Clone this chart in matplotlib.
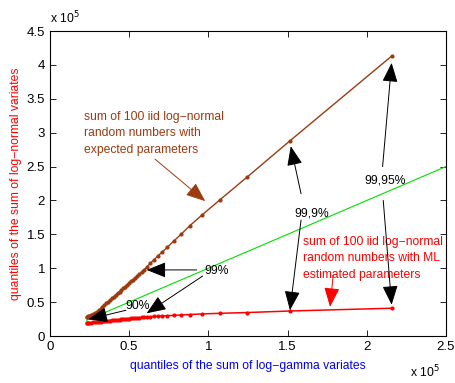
import matplotlib
matplotlib.use("Agg")
import matplotlib.pyplot as plt

plt.rcParams['font.family'] = ['Liberation Sans', 'DejaVu Sans']

# quantiles of the sum of log-gamma variates (x 1e5)
q_loggamma = [0.232, 0.235, 0.240, 0.247, 0.259, 0.271, 0.283, 0.295, 0.307, 0.319,
              0.331, 0.343, 0.355, 0.367, 0.379, 0.391, 0.403, 0.415, 0.427, 0.439,
              0.451, 0.463, 0.475, 0.487, 0.499, 0.511, 0.523, 0.536, 0.549, 0.563,
              0.578, 0.594, 0.612, 0.632, 0.655, 0.680, 0.709, 0.741, 0.781, 0.827,
              0.884, 0.962, 1.073, 1.242, 1.515, 2.159]
# log-normal with expected parameters (x 1e5)
q_ln_expected = [0.285, 0.287, 0.290, 0.295, 0.305, 0.320, 0.340, 0.360, 0.380, 0.405,
                 0.430, 0.455, 0.480, 0.505, 0.530, 0.555, 0.580, 0.605, 0.630, 0.655,
                 0.680, 0.705, 0.730, 0.755, 0.780, 0.805, 0.830, 0.855, 0.880, 0.910,
                 0.945, 0.980, 1.020, 1.070, 1.120, 1.180, 1.240, 1.310, 1.400, 1.500,
                 1.630, 1.790, 2.010, 2.340, 2.880, 4.134]
# log-normal with ML estimated parameters (x 1e5)
q_ln_ml = [0.185, 0.187, 0.190, 0.193, 0.197, 0.200, 0.204, 0.207, 0.210, 0.213,
           0.216, 0.219, 0.222, 0.225, 0.228, 0.231, 0.234, 0.237, 0.240, 0.243,
           0.246, 0.249, 0.252, 0.255, 0.258, 0.261, 0.263, 0.266, 0.268, 0.271,
           0.274, 0.277, 0.280, 0.284, 0.288, 0.292, 0.296, 0.300, 0.305, 0.310,
           0.317, 0.326, 0.335, 0.346, 0.369, 0.410]
diag = [0.232, 2.5]

brown = '#9c3a10'
fs = 8.7

fig = plt.figure(figsize=(4.56, 3.83), dpi=100)
ax = fig.add_axes([0.1096, 0.1227, 0.8684, 0.7963])

ax.plot(diag, diag, color='#00e000', lw=0.8)
ax.plot(q_loggamma, q_ln_expected, color=brown, lw=1.0, marker='o', ms=3.0, mew=0)
ax.plot(q_loggamma, q_ln_ml, color='red', lw=1.1, marker='o', ms=3.0, mew=0)

ax.set_xlim(0, 2.5)
ax.set_ylim(0, 4.5)
ax.set_xticks([0, 0.5, 1, 1.5, 2, 2.5])
ax.set_xticklabels(['0', '0.5', '1', '1.5', '2', '2.5'])
ax.set_yticks([0, 0.5, 1, 1.5, 2, 2.5, 3, 3.5, 4, 4.5])
ax.set_yticklabels(['0', '0.5', '1', '1.5', '2', '2.5', '3', '3.5', '4', '4.5'])
ax.tick_params(direction='in', top=True, right=True, labelsize=9.5, length=4, width=0.6)
for s in ax.spines.values():
    s.set_linewidth(0.8)

ax.set_xlabel('quantiles of the sum of log\u2212gamma variates', color='blue', fontsize=fs, labelpad=5)
ax.set_ylabel('quantiles of the sum of log\u2212normal variates', color='red', fontsize=fs, labelpad=3)

fig.text(0.11, 0.952, 'x 10$^5$', fontsize=fs, ha='left', va='center')
fig.text(0.965, 0.03, 'x 10$^5$', fontsize=fs, ha='right', va='center')

arr = dict(arrowstyle='-|>,head_length=0.8,head_width=0.32', color='black', lw=0.7,
           shrinkA=0, shrinkB=0, mutation_scale=15)

ax.text(0.215, 3.32, 'sum of 100 iid log\u2212normal\nrandom numbers with\nexpected parameters',
        color=brown, fontsize=fs, va='top', ha='left', linespacing=1.5)
ax.annotate('', xy=(0.98, 1.99), xytext=(0.663, 2.61),
            arrowprops=dict(arr, color=brown))

ax.text(1.60, 1.48, 'sum of 100 iid log\u2212normal\nrandom numbers with ML\nestimated parameters',
        color='red', fontsize=fs, va='top', ha='left', linespacing=1.5)
ax.annotate('', xy=(1.768, 0.43), xytext=(1.788, 0.90),
            arrowprops=dict(arr, color='red'))

ax.text(1.05, 0.96, '99%', fontsize=fs, ha='center', va='center')
ax.annotate('', xy=(0.61, 0.975), xytext=(0.926, 0.975), arrowprops=arr)
ax.annotate('', xy=(0.61, 0.335), xytext=(0.964, 0.885), arrowprops=arr)

ax.text(0.556, 0.44, '90%', fontsize=fs, ha='center', va='center')
ax.annotate('', xy=(0.242, 0.246), xytext=(0.48, 0.38), arrowprops=arr)

ax.text(1.65, 1.81, '99,9%', fontsize=fs, ha='center', va='center')
ax.annotate('', xy=(1.52, 2.80), xytext=(1.585, 2.10), arrowprops=arr)
ax.annotate('', xy=(1.515, 0.38), xytext=(1.585, 1.71), arrowprops=arr)

ax.text(2.115, 2.29, '99,95%', fontsize=fs, ha='center', va='center')
ax.annotate('', xy=(2.157, 4.03), xytext=(2.10, 2.50), arrowprops=arr)
ax.annotate('', xy=(2.157, 0.46), xytext=(2.104, 2.00), arrowprops=arr)

fig.savefig('out.png', dpi=100)
